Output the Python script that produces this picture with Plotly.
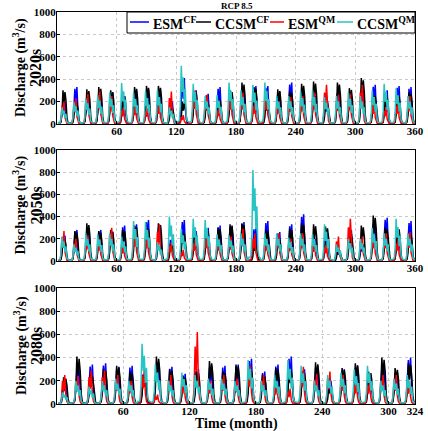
import plotly.graph_objects as go
from plotly.subplots import make_subplots

# ---------------- data (annual peak discharge, m3/s) -------------
periods = ["2020s", "2050s", "2080s"]
n_years = [30, 30, 27]

esm_cf_2020 = [200,330,250,280,280,250,300,310,310,200,410,300,270,330,250,300,340,340,290,370,300,250,200,290,250,300,350,300,340,330]
ccsm_cf_2020 = [300,200,310,330,300,260,330,340,340,150,200,290,200,220,300,370,330,200,310,290,360,380,200,370,320,410,260,250,260,280]
esm_qm_2020 = [200,230,270,290,250,150,170,140,200,290,80,300,260,150,280,280,200,280,200,240,250,280,350,260,270,350,200,150,200,250]
ccsm_qm_2020 = [150,200,230,260,280,365,280,290,300,150,520,360,250,260,370,300,350,370,250,250,290,300,240,250,280,250,300,360,320,250]

esm_cf_2050 = [230,280,300,280,260,320,330,370,320,200,370,270,300,320,320,350,300,360,260,330,420,200,250,100,280,150,350,390,250,360]
ccsm_cf_2050 = [200,270,340,270,280,280,320,300,340,150,260,250,280,300,330,340,150,280,200,290,340,330,310,100,260,320,410,300,300,250]
esm_qm_2050 = [270,200,230,200,300,150,280,250,330,170,100,200,250,200,220,290,250,200,250,200,250,180,150,220,380,220,250,250,200,260]
ccsm_qm_2050 = [220,150,250,240,250,220,360,350,170,400,290,380,370,240,230,250,820,250,250,210,250,240,330,150,200,200,300,250,380,250]

esm_cf_2080 = [200,300,340,350,320,330,270,360,320,260,300,330,330,340,390,280,340,410,300,330,200,300,330,250,330,280,400]
ccsm_cf_2080 = [230,410,250,300,330,280,250,410,300,240,280,370,280,340,300,250,310,300,280,360,150,310,350,280,400,310,350]
esm_qm_2080 = [250,240,290,290,250,200,300,80,250,200,620,200,250,220,330,250,180,130,320,260,280,250,200,200,250,250,200]
ccsm_qm_2080 = [100,200,150,200,220,200,520,340,200,270,250,220,220,200,380,200,250,380,330,200,250,270,300,330,200,220,250]

# seasonal shape (fraction of annual peak, months 1..12) per series
profile_esm_cf = [0.02,0.02,0.03,0.1,0.45,0.95,0.55,1.0,0.4,0.1,0.03,0.02]
profile_ccsm_cf = [0.02,0.02,0.03,0.06,0.3,1.0,0.6,0.95,0.7,0.2,0.04,0.02]
profile_esm_qm = [0.0,0.0,0.02,0.2,0.8,0.45,1.0,0.3,0.08,0.02,0.0,0.0]
profile_ccsm_qm = [0.04,0.04,0.06,0.3,1.0,0.55,0.8,0.35,0.6,0.12,0.05,0.04]

series_names = ["ESM<sup>CF</sup>", "CCSM<sup>CF</sup>", "ESM<sup>QM</sup>", "CCSM<sup>QM</sup>"]
series_colors = ["#0000ff", "#000000", "#ff0000", "#28c4c4"]
peaks = [
    [esm_cf_2020, ccsm_cf_2020, esm_qm_2020, ccsm_qm_2020],
    [esm_cf_2050, ccsm_cf_2050, esm_qm_2050, ccsm_qm_2050],
    [esm_cf_2080, ccsm_cf_2080, esm_qm_2080, ccsm_qm_2080],
]
profiles = [profile_esm_cf, profile_ccsm_cf, profile_esm_qm, profile_ccsm_qm]

x_ticks = [[60,120,180,240,300,360],[60,120,180,240,300,360],[60,120,180,240,300,324]]
y_ticks = [0,200,400,600,800,1000]

FONT = "Liberation Serif, Times New Roman, serif"

fig = make_subplots(rows=3, cols=1, vertical_spacing=0.06)

for r in range(3):
    for s in range(4):
        xs, ys = [], []
        for yr, pk in enumerate(peaks[r][s]):
            for m, f in enumerate(profiles[s]):
                xs.append(yr*12 + m + 1)
                ys.append(pk*f)
        fig.add_trace(go.Scatter(x=xs, y=ys, mode="lines", name=series_names[s],
                                 line=dict(color=series_colors[s], width=1.5),
                                 showlegend=False), row=r+1, col=1)

# pixel -> paper helpers (plot area x 57..415, y 12..404)
def px_x(p):
    return (p - 57) / 358.0

def px_y(p):
    return 1 - (p - 12) / 392.0

domains = [[px_y(124), px_y(12)], [px_y(261), px_y(150)], [px_y(404), px_y(288)]]
for r in range(3):
    xmax = n_years[r]*12
    fig.update_xaxes(row=r+1, col=1, range=[0, xmax], tickvals=x_ticks[r], automargin=False,
                     showgrid=True, gridcolor="#c8c8c8", griddash="dot", gridwidth=1,
                     showline=True, linecolor="black", linewidth=1, mirror=True,
                     ticks="inside", ticklen=3, tickcolor="black", zeroline=False,
                     ticklabelstandoff=-3,
                     tickfont=dict(family=FONT, size=11, color="black", weight="bold"))
    fig.update_yaxes(row=r+1, col=1, range=[0, 1000], tickvals=y_ticks, domain=domains[r],
                     automargin=False,
                     showgrid=True, gridcolor="#c8c8c8", griddash="dot", gridwidth=1,
                     showline=True, linecolor="black", linewidth=1, mirror=True,
                     ticks="inside", ticklen=3, tickcolor="black", zeroline=False,
                     ticklabelstandoff=-2,
                     tickfont=dict(family=FONT, size=11, color="black", weight="bold"))
    # y-axis title as two rotated annotations
    yc = (domains[r][0] + domains[r][1]) / 2
    fig.add_annotation(xref="paper", yref="paper", x=px_x(20), y=yc, xanchor="center",
                       yanchor="middle", textangle=-90, showarrow=False,
                       text="Discharge (m<sup>3</sup>/s)",
                       font=dict(family=FONT, size=14, color="black", weight="bold"))
    fig.add_annotation(xref="paper", yref="paper", x=px_x(36), y=yc, xanchor="center",
                       yanchor="middle", textangle=-90, showarrow=False,
                       text=periods[r],
                       font=dict(family=FONT, size=16, color="black", weight="bold"))

fig.add_annotation(xref="paper", yref="paper", x=0.5, y=px_y(424), xanchor="center",
                   yanchor="middle", showarrow=False, text="Time (month)",
                   font=dict(family=FONT, size=14, color="black", weight="bold"))

# manual legend box inside top panel
fig.add_shape(type="rect", xref="paper", yref="paper", x0=px_x(127), x1=1.0, y0=px_y(33), y1=1.0,
              line=dict(color="black", width=1), fillcolor="white", layer="above")
leg_line_x = [(130, 149), (196, 211), (270, 284), (337, 353)]
leg_text_x = [151, 213, 286, 355]
for s in range(4):
    fig.add_shape(type="line", xref="paper", yref="paper",
                  x0=px_x(leg_line_x[s][0]), x1=px_x(leg_line_x[s][1]), y0=px_y(22), y1=px_y(22),
                  line=dict(color=series_colors[s], width=1.5), layer="above")
    fig.add_annotation(xref="paper", yref="paper", x=px_x(leg_text_x[s]), y=px_y(23),
                       xanchor="left", yanchor="middle", showarrow=False, text=series_names[s],
                       font=dict(family=FONT, size=14, color="black", weight="bold"))

# panel title
fig.add_annotation(xref="paper", yref="paper", x=px_x(237), y=px_y(6), xanchor="center",
                   yanchor="middle", showarrow=False, text="RCP 8.5",
                   font=dict(family=FONT, size=9, color="black", weight="bold"))

fig.update_layout(
    width=428, height=431,
    margin=dict(l=57, r=13, t=12, b=27),
    paper_bgcolor="white", plot_bgcolor="white",
    showlegend=False,
)

fig.write_html("out.html")
